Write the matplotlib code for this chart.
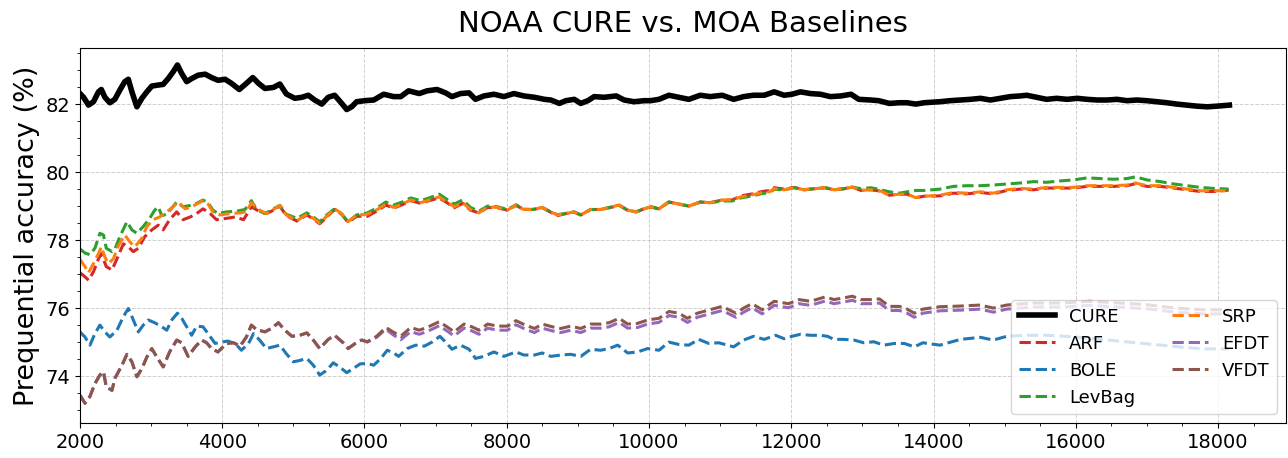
import matplotlib
matplotlib.use("Agg")
import matplotlib.pyplot as plt

# values (x = samples seen, y = accuracy %)
cure_x = [2000, 2050, 2120, 2190, 2260, 2300, 2350, 2420, 2490, 2560, 2630, 2680, 2730, 2800, 2870,
          2940, 3010, 3100, 3170, 3240, 3310, 3370, 3430, 3500, 3570, 3660, 3760, 3850, 3940, 4040,
          4130, 4240, 4340, 4430, 4510, 4600, 4720, 4810, 4900, 5020, 5120, 5210, 5300, 5400, 5490,
          5580, 5680, 5750, 5820, 5890, 6000, 6130, 6270, 6410, 6510, 6620, 6770, 6880, 7020, 7140,
          7230, 7350, 7470, 7560, 7680, 7820, 7960, 8100, 8240, 8390, 8530, 8620, 8740, 8830, 8950,
          9040, 9140, 9230, 9370, 9540, 9650, 9790, 9930, 10020, 10140, 10280, 10420, 10560, 10720,
          10860, 11030, 11190, 11330, 11470, 11620, 11760, 11900, 12010, 12130, 12270, 12410, 12550,
          12700, 12840, 12950, 13120, 13230, 13380, 13520, 13630, 13750, 13870, 14090, 14230, 14380,
          14520, 14660, 14800, 14940, 15080, 15220, 15310, 15450, 15590, 15730, 15880, 16020, 16160,
          16300, 16440, 16580, 16720, 16860, 17000, 17140, 17280, 17420, 17560, 17700, 17850, 17990,
          18160]
cure_y = [82.31, 82.2, 81.97, 82.07, 82.36, 82.43, 82.2, 82.04, 82.14, 82.41, 82.66, 82.73, 82.36, 81.92, 82.17,
          82.36, 82.53, 82.56, 82.58, 82.75, 82.95, 83.15, 82.9, 82.66, 82.75, 82.85, 82.88, 82.78, 82.7, 82.73,
          82.61, 82.43, 82.61, 82.78, 82.61, 82.46, 82.49, 82.59, 82.3, 82.17, 82.2, 82.26, 82.12, 82.0, 82.2,
          82.26, 82.02, 81.84, 81.92, 82.07, 82.1, 82.12, 82.29, 82.22, 82.22, 82.39, 82.31, 82.39, 82.43, 82.33,
          82.22, 82.31, 82.33, 82.14, 82.24, 82.29, 82.22, 82.31, 82.24, 82.2, 82.14, 82.12, 82.02, 82.1, 82.14,
          82.02, 82.1, 82.22, 82.2, 82.24, 82.12, 82.07, 82.1, 82.1, 82.14, 82.26, 82.2, 82.14, 82.26,
          82.22, 82.26, 82.14, 82.22, 82.26, 82.26, 82.36, 82.26, 82.29, 82.36, 82.31, 82.29, 82.22,
          82.24, 82.29, 82.14, 82.12, 82.1, 82.02, 82.04, 82.04, 82.0, 82.04, 82.07, 82.1, 82.12,
          82.14, 82.17, 82.12, 82.17, 82.22, 82.24, 82.26, 82.2, 82.14, 82.17, 82.14, 82.17, 82.14,
          82.12, 82.12, 82.14, 82.1, 82.12, 82.1, 82.07, 82.04, 82.0, 81.97, 81.94, 81.92, 81.94,
          81.97]

# ARF, SRP and LevBag share the grid after 6000
mid_x = [6040, 6180, 6300, 6410, 6530, 6650, 6790, 6910, 7050, 7160, 7260, 7380, 7490, 7610, 7730,
         7870, 8010, 8130, 8240, 8360, 8500, 8620, 8710, 8830, 8950, 9040, 9180, 9320, 9440, 9580,
         9700, 9820, 9930, 10030, 10140, 10280, 10420, 10560, 10720, 10860, 11030, 11170, 11290, 11430,
         11570, 11690, 11760, 11900, 12040, 12180, 12320, 12480, 12600, 12740, 12860, 12980, 13120,
         13260, 13380, 13520, 13630, 13750, 13870, 14090, 14280, 14470, 14660, 14840, 15030, 15220,
         15410, 15590, 15780, 15970, 16160, 16350, 16530, 16720, 16840, 17000, 17190, 17380, 17560,
         17750, 17940, 18150]

arf_x = [2000, 2070, 2120, 2190, 2260, 2300, 2370, 2450, 2520, 2610, 2680, 2750, 2820, 2910, 3010,
         3100, 3170, 3260, 3360, 3450, 3550, 3640, 3730, 3830, 3920, 4060, 4180, 4300, 4410, 4530,
         4620, 4720, 4810, 4900, 5050, 5190, 5280, 5370, 5470, 5580, 5680, 5770, 5890] + mid_x
arf_y = [77.04, 76.92, 76.82, 77.07, 77.45, 77.6, 77.22, 77.12, 77.45, 77.89, 77.8, 77.66, 77.76, 78.1, 78.3,
         78.44, 78.3, 78.6, 78.83, 78.6, 78.68, 78.78, 78.92, 78.78, 78.6, 78.64, 78.68, 78.6, 78.98, 78.83,
         78.78, 78.88, 79.0, 78.72, 78.56, 78.74, 78.62, 78.48, 78.68, 78.9, 78.76, 78.52, 78.7,
         78.7, 78.86, 79.03, 78.94, 79.04, 79.16, 79.08, 79.16, 79.24, 79.1, 78.95, 79.08, 78.88, 78.8, 78.96,
         78.95, 78.88, 79.02, 78.9, 78.9, 78.95, 78.82, 78.72, 78.78, 78.82, 78.74, 78.9, 78.9, 78.95, 79.02,
         78.88, 78.83, 78.92, 78.97, 78.92, 79.12, 79.06, 79.0, 79.12, 79.1, 79.18, 79.18, 79.3, 79.35,
         79.42, 79.46, 79.54, 79.5, 79.55, 79.48, 79.51, 79.54, 79.48, 79.51, 79.56, 79.46, 79.48,
         79.44, 79.32, 79.35, 79.35, 79.25, 79.29, 79.3, 79.38, 79.36, 79.4, 79.36, 79.46, 79.5,
         79.48, 79.53, 79.53, 79.53, 79.58, 79.58, 79.58, 79.6, 79.66, 79.58, 79.58, 79.53, 79.48,
         79.43, 79.43, 79.47]

srp_x = [2000, 2070, 2120, 2190, 2260, 2300, 2350, 2400, 2470, 2540, 2630, 2700, 2770, 2870, 2940,
         3030, 3120, 3220, 3310, 3380, 3480, 3570, 3660, 3730, 3800, 3870, 3970, 4110, 4250, 4340,
         4410, 4530, 4620, 4720, 4810, 4900, 5050, 5190, 5280, 5370, 5470, 5580, 5680, 5770, 5890] + mid_x
srp_y = [77.43, 77.22, 77.04, 77.31, 77.6, 77.8, 77.5, 77.31, 77.45, 77.84, 78.15, 77.95, 77.8, 78.05, 78.4,
         78.6, 78.68, 78.83, 78.98, 79.12, 78.92, 78.98, 79.08, 79.16, 79.06, 78.83, 78.74, 78.78, 78.8, 78.83,
         79.1, 78.88, 78.78, 78.9, 79.02, 78.74, 78.57, 78.76, 78.64, 78.5, 78.7, 78.92, 78.78, 78.54, 78.74,
         78.76, 78.9, 79.06, 78.96, 79.06, 79.18, 79.1, 79.18, 79.27, 79.12, 78.98, 79.1, 78.9, 78.8, 78.98,
         78.96, 78.88, 79.03, 78.9, 78.9, 78.96, 78.83, 78.74, 78.78, 78.83, 78.74, 78.9, 78.9, 78.96, 79.03,
         78.88, 78.83, 78.92, 78.98, 78.92, 79.12, 79.06, 79.0, 79.12, 79.1, 79.18, 79.18, 79.27, 79.32,
         79.39, 79.42, 79.51, 79.48, 79.54, 79.48, 79.51, 79.54, 79.48, 79.51, 79.56, 79.46, 79.48,
         79.44, 79.32, 79.35, 79.35, 79.25, 79.29, 79.32, 79.4, 79.38, 79.42, 79.38, 79.48, 79.52,
         79.5, 79.55, 79.55, 79.55, 79.6, 79.6, 79.6, 79.62, 79.68, 79.6, 79.6, 79.55, 79.5,
         79.45, 79.45, 79.45]

levbag_x = [2000, 2070, 2140, 2210, 2280, 2330, 2370, 2450, 2490, 2560, 2660, 2730, 2800, 2890, 2980,
            3050, 3100, 3150, 3220, 3360, 3450, 3550, 3640, 3730, 3800, 3870, 3940, 4060, 4200, 4320,
            4410, 4480, 4600, 4720, 4810, 4900, 5050, 5190, 5280, 5370, 5470, 5580, 5680, 5770, 5890] + mid_x
levbag_y = [77.74, 77.62, 77.57, 77.76, 78.2, 78.15, 77.76, 77.66, 77.73, 78.1, 78.54, 78.3, 78.2, 78.4, 78.64,
            78.88, 78.98, 78.72, 78.76, 79.12, 78.98, 79.02, 79.08, 79.18, 79.1, 78.88, 78.78, 78.83, 78.85, 78.9,
            79.16, 78.9, 78.78, 78.92, 79.02, 78.76, 78.64, 78.8, 78.68, 78.54, 78.74, 78.92, 78.76, 78.54, 78.74,
            78.8, 78.95, 79.12, 79.03, 79.12, 79.24, 79.16, 79.24, 79.35, 79.2, 79.06, 79.18, 78.96, 78.85, 79.0,
            78.98, 78.9, 79.04, 78.91, 78.9, 78.96, 78.83, 78.75, 78.78, 78.83, 78.74, 78.9, 78.9, 78.96, 79.03,
            78.88, 78.83, 78.92, 78.98, 78.92, 79.12, 79.06, 79.0, 79.12, 79.1, 79.15, 79.15, 79.24, 79.29,
            79.36, 79.4, 79.49, 79.48, 79.54, 79.48, 79.51, 79.54, 79.48, 79.51, 79.56, 79.51, 79.54,
            79.48, 79.42, 79.38, 79.42, 79.46, 79.46, 79.5, 79.58, 79.6, 79.6, 79.62, 79.65, 79.68,
            79.72, 79.7, 79.74, 79.77, 79.83, 79.81, 79.79, 79.81, 79.86, 79.77, 79.72, 79.65, 79.6,
            79.55, 79.52, 79.5]

bole_x = [2000, 2070, 2140, 2210, 2280, 2350, 2420, 2520, 2610, 2680, 2750, 2820, 2890, 2960, 3050,
          3150, 3220, 3290, 3370, 3430, 3500, 3570, 3640, 3730, 3800, 3900, 3990, 4080, 4180, 4270,
          4370, 4440, 4530, 4620, 4720, 4810, 4900, 5000, 5090, 5190, 5280, 5370, 5470, 5560, 5650,
          5750, 5840, 5940, 6040, 6130, 6230, 6320, 6410, 6480, 6600, 6720, 6840, 6950, 7060, 7140,
          7230, 7350, 7470, 7560, 7680, 7820, 7960, 8130, 8240, 8390, 8500, 8620, 8760, 8900, 9040,
          9180, 9320, 9440, 9560, 9700, 9840, 9980, 10140, 10280, 10420, 10560, 10700, 10840, 10980,
          11190, 11330, 11470, 11620, 11780, 11900, 12010, 12130, 12270, 12410, 12510, 12600, 12740,
          12880, 13020, 13160, 13300, 13450, 13590, 13730, 13850, 14090, 14380, 14660, 14840, 15030,
          15300, 15600, 16000, 16500, 17000, 17500, 17800, 18150]
bole_y = [75.3, 75.15, 74.91, 75.25, 75.5, 75.3, 75.15, 75.35, 75.75, 75.99, 75.65, 75.3, 75.5, 75.65, 75.57,
          75.45, 75.35, 75.65, 75.85, 75.7, 75.45, 75.2, 75.47, 75.45, 75.25, 74.96, 75.0, 75.03, 74.96, 74.76,
          74.96, 75.25, 75.05, 74.81, 74.86, 74.91, 74.66, 74.42, 74.46, 74.52, 74.32, 74.03, 74.17, 74.39, 74.27,
          74.1, 74.22, 74.36, 74.37, 74.32, 74.52, 74.76, 74.68, 74.58, 74.81, 74.91, 74.88, 75.0, 75.17, 75.0,
          74.79, 74.91, 74.79, 74.52, 74.58, 74.71, 74.58, 74.71, 74.62, 74.62, 74.68, 74.58, 74.62, 74.64, 74.58,
          74.79, 74.76, 74.81, 74.91, 74.68, 74.71, 74.81, 74.76, 75.0, 74.93, 74.91, 75.08, 74.96, 74.98,
          74.86, 75.06, 75.17, 75.08, 75.2, 75.1, 75.17, 75.23, 75.2, 75.2, 75.17, 75.08, 75.08,
          75.06, 74.98, 75.01, 74.91, 74.96, 74.96, 74.86, 74.98, 74.91, 75.08, 75.14, 75.06, 75.17,
          75.2, 75.2, 75.15, 75.05, 74.95, 74.85, 74.8, 74.8]

vfdt_x = [2000, 2070, 2140, 2210, 2280, 2330, 2370, 2450, 2490, 2590, 2660, 2730, 2800, 2870, 2940,
          3010, 3080, 3170, 3260, 3360, 3430, 3520, 3620, 3710, 3780, 3850, 3940, 4060, 4160, 4250,
          4340, 4410, 4480, 4600, 4690, 4790, 4880, 4980, 5090, 5190, 5280, 5370, 5490, 5580, 5700,
          5770, 5870, 5960, 6040, 6170, 6300, 6400, 6510, 6650, 6770, 6880, 7050, 7160, 7260, 7400,
          7510, 7610, 7730, 7870, 8010, 8130, 8260, 8390, 8500, 8640, 8760, 8900, 9040, 9180, 9320,
          9440, 9580, 9700, 9840, 9980, 10140, 10280, 10420, 10540, 10680, 10820, 11030, 11220, 11330,
          11450, 11590, 11760, 11960, 12110, 12270, 12480, 12600, 12740, 12860, 12980, 13120, 13240,
          13380, 13520, 13630, 13730, 13850, 14090, 14380, 14660, 14840, 15030, 15400, 15800, 16200,
          16600, 17000, 17400, 17800, 18150]
vfdt_y = [73.44, 73.2, 73.4, 73.78, 74.03, 74.13, 73.68, 73.58, 73.93, 74.32, 74.64, 74.42, 73.98, 74.22, 74.56,
          74.81, 74.56, 74.27, 74.71, 75.06, 74.98, 74.58, 74.86, 75.06, 74.98, 74.81, 74.71, 74.96, 74.98, 74.88,
          75.15, 75.5, 75.37, 75.3, 75.4, 75.57, 75.35, 75.17, 75.2, 75.27, 75.06, 74.81, 75.08, 75.2, 74.98,
          74.81, 74.96, 75.06, 75.01, 75.17, 75.43, 75.3, 75.17, 75.43, 75.35, 75.43, 75.6, 75.45, 75.3, 75.53,
          75.45, 75.35, 75.53, 75.47, 75.47, 75.63, 75.5, 75.4, 75.53, 75.45, 75.4, 75.47, 75.4, 75.53, 75.53,
          75.57, 75.7, 75.53, 75.55, 75.65, 75.7, 75.9, 75.85, 75.7, 75.85, 75.93, 76.05, 75.85, 76.0,
          76.13, 75.95, 76.2, 76.13, 76.25, 76.2, 76.33, 76.25, 76.3, 76.35, 76.25, 76.25, 76.27,
          76.05, 76.05, 75.97, 75.85, 75.97, 76.04, 76.06, 76.09, 76.0, 76.09, 76.15, 76.15, 76.2,
          76.15, 76.1, 76.0, 75.95, 75.95]

efdt_x = vfdt_x
efdt_y = [73.44, 73.2, 73.4, 73.78, 74.03, 74.13, 73.68, 73.58, 73.93, 74.32, 74.64, 74.42, 73.98, 74.22, 74.56,
          74.81, 74.56, 74.27, 74.71, 75.06, 74.98, 74.58, 74.86, 75.06, 74.98, 74.81, 74.71, 74.96, 74.98, 74.88,
          75.15, 75.5, 75.37, 75.3, 75.4, 75.57, 75.35, 75.17, 75.2, 75.27, 75.06, 74.81, 75.08, 75.2, 74.98,
          74.81, 74.96, 75.06, 75.0, 75.14, 75.38, 75.22, 75.07, 75.31, 75.23, 75.31, 75.48, 75.33, 75.18, 75.41,
          75.33, 75.23, 75.41, 75.35, 75.35, 75.51, 75.38, 75.28, 75.41, 75.33, 75.28, 75.35, 75.28, 75.41, 75.41,
          75.45, 75.58, 75.41, 75.43, 75.53, 75.58, 75.78, 75.73, 75.58, 75.73, 75.81, 75.93, 75.73, 75.88,
          76.01, 75.83, 76.08, 76.01, 76.13, 76.08, 76.21, 76.13, 76.18, 76.23, 76.13, 76.13, 76.15,
          75.93, 75.93, 75.85, 75.73, 75.85, 75.92, 75.94, 75.97, 75.88, 75.97, 76.03, 76.03, 76.08,
          76.03, 75.98, 75.88, 75.83, 75.83]

fig, ax = plt.subplots(figsize=(12.88, 4.58), dpi=100)
fig.subplots_adjust(left=0.0621, right=0.9984, top=0.8952, bottom=0.0764)

ax.plot(cure_x, cure_y, color='black', lw=4, label='CURE')
ax.plot(arf_x, arf_y, '--', color='tab:red', lw=2.2, label='ARF')
ax.plot(bole_x, bole_y, '--', color='tab:blue', lw=2.2, label='BOLE')
ax.plot(levbag_x, levbag_y, '--', color='tab:green', lw=2.2, label='LevBag')
ax.plot(srp_x, srp_y, '--', color='tab:orange', lw=2.2, label='SRP')
ax.plot(efdt_x, efdt_y, '--', color='tab:purple', lw=2.2, label='EFDT')
ax.plot(vfdt_x, vfdt_y, '--', color='tab:brown', lw=2.2, label='VFDT')

ax.set_xlim(2000, 18955)
ax.set_ylim(72.62, 83.65)
ax.minorticks_on()
ax.grid(True, which='major', linestyle='--', linewidth=0.7, alpha=0.6)
ax.tick_params(axis='both', which='major', labelsize=14)
ax.set_ylabel('Prequential accuracy (%)', fontsize=19.5)
ax.set_title('NOAA CURE vs. MOA Baselines', fontsize=21, pad=11.5)
ax.legend(loc='lower right', ncol=2, fontsize=13)

plt.savefig('out.png', dpi=100)
